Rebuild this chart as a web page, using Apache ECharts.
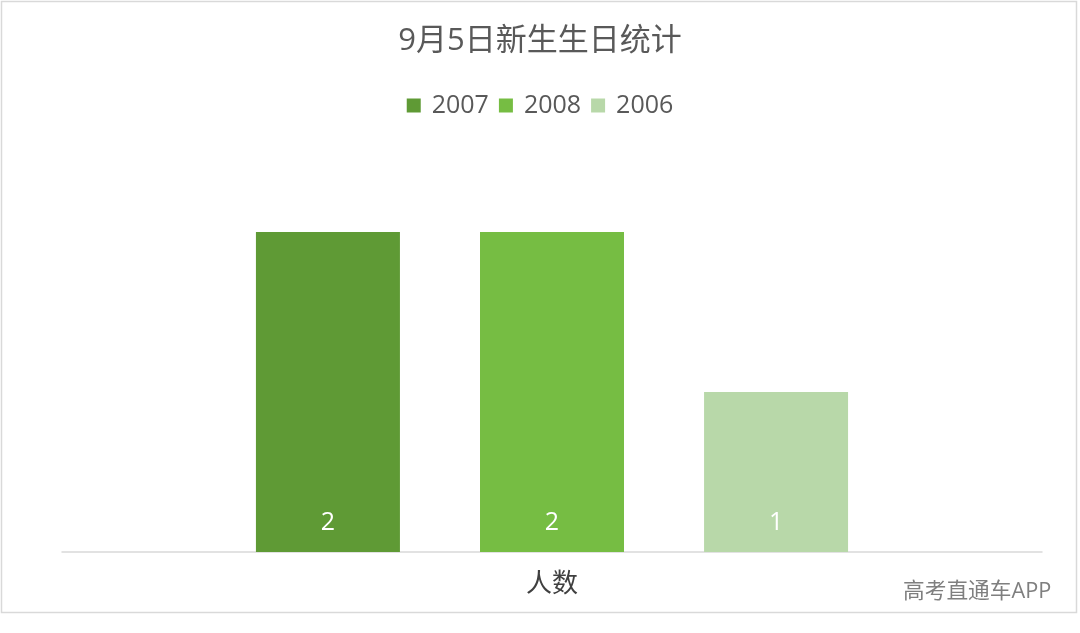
<!DOCTYPE html>
<html><head><meta charset="utf-8">
<script src="https://cdn.jsdelivr.net/npm/echarts@6/dist/echarts.min.js"></script>
<style>html,body{margin:0;padding:0;background:#fff}#c{width:1080px;height:633px}</style>
</head><body><div id="c"></div>
<script>
const categories = ['人数'];
const seriesNames = ['2007', '2008', '2006'];
const seriesValues = [[2], [2], [1]];
const colors = ['#5f9a35', '#76bd43', '#b8d8a9'];

const chart = echarts.init(document.getElementById('c'));
const FONT = '"Open Sans","Noto Sans CJK SC","Noto Sans",sans-serif';
chart.setOption({
  backgroundColor: '#fff',
  animation: false,
  textStyle: { fontFamily: FONT },
  title: {
    text: '9月5日新生生日统计', left: 'center', top: 21,
    textStyle: { fontSize: 31, fontWeight: 'normal', color: '#595959', fontFamily: FONT }
  },
  legend: {
    top: 88, left: 'center', itemWidth: 14, itemHeight: 14, itemGap: 10,
    icon: 'rect',
    textStyle: { fontSize: 25, color: '#595959', fontFamily: FONT, padding: [0, 0, 0, 6] },
    data: seriesNames
  },
  graphic: [
    { type: 'rect', shape: { x: 1.5, y: 1.5, width: 1075, height: 611 }, style: { fill: 'none', stroke: '#d9d9d9', lineWidth: 1.5 }, z: 100 },
    { type: 'text', left: 903, top: 581, style: { text: '高考直通车APP', fontSize: 21.7, fill: '#7f7f7f', fontFamily: FONT } }
  ],
  grid: { left: 62, right: 38, top: 152, bottom: 81 },
  xAxis: {
    type: 'category', data: categories,
    axisLine: { lineStyle: { color: '#d9d9d9', width: 1.5 } },
    axisTick: { show: false },
    axisLabel: { fontSize: 26, color: '#404040', margin: 20, fontFamily: FONT }
  },
  yAxis: { type: 'value', min: 0, max: 2.5, show: false, splitLine: { show: false } },
  series: seriesNames.map((n, i) => ({
    name: n, type: 'bar', data: seriesValues[i], barWidth: 144, barGap: '55.6%',
    itemStyle: { color: colors[i] },
    label: { show: true, position: 'insideBottom', distance: 17, color: '#fff', fontSize: 25, fontFamily: FONT }
  }))
});
</script></body></html>
